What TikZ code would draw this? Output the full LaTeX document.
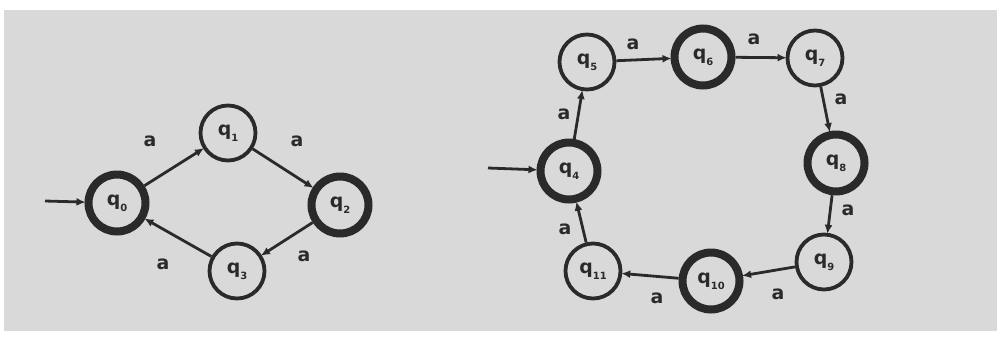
\documentclass[tikz,border=0pt]{standalone}
\usepackage{fontspec}
\setmainfont{DejaVu Sans}
\usetikzlibrary{arrows.meta}
\definecolor{paper}{HTML}{D9D9D9}
\definecolor{ink}{HTML}{2A2A2A}
\newcommand{\st}[1]{\fontsize{19}{20}\selectfont\bfseries q\raisebox{-0.6ex}{\fontsize{10}{11}\selectfont #1}}
\tikzset{
  x=1bp, y=-1bp,
  thinstate/.style={circle, draw=ink, line width=3.8bp, minimum size=55bp, inner sep=0pt, text=ink},
  thickstate/.style={circle, draw=ink, line width=8bp, minimum size=57bp, inner sep=0pt, text=ink},
  edge/.style={draw=ink, line width=2.8bp, -{Latex[length=9bp,width=8bp]}, shorten >=-1bp},
  lab/.style={text=ink, font=\fontsize{19}{20}\selectfont\bfseries, inner sep=0pt}
}
\begin{document}
\begin{tikzpicture}
\useasboundingbox (0,0) rectangle (1000,341);
\fill[white] (0,0) rectangle (1000,341);
\fill[paper] (4,10) rectangle (997,331);
% left automaton
\node[thickstate] (q0) at (117,203) {\st{0}};
\node[thinstate]  (q1) at (228,133) {\st{1}};
\node[thickstate] (q2) at (340,205) {\st{2}};
\node[thinstate]  (q3) at (237,271) {\st{3}};
\coordinate (s0) at (45,201);
\draw[edge] (s0) -- (q0);
\draw[edge] (q0) -- (q1);
\draw[edge] (q1) -- (q2);
\draw[edge] (q2) -- (q3);
\draw[edge] (q3) -- (q0);
\node[lab] (l01) at (150,141) {a};
\node[lab] (l12) at (297,141) {a};
\node[lab] (l23) at (304,256) {a};
\node[lab] (l30) at (163,264) {a};
% right automaton
\node[thickstate] (q4) at (569,171) {\st{4}};
\node[thinstate]  (q5) at (587,62) {\st{5}};
\node[thickstate] (q6) at (703,57) {\st{6}};
\node[thinstate]  (q7) at (815,58) {\st{7}};
\node[thickstate] (q8) at (836,163) {\st{8}};
\node[thinstate]  (q9) at (824,262) {\st{9}};
\node[thickstate] (q10) at (711,281) {\st{10}};
\node[thinstate]  (q11) at (593,271) {\st{11}};
\coordinate (s4) at (488,168);
\draw[edge] (s4) -- (q4);
\draw[edge] (q4) -- (q5);
\draw[edge] (q5) -- (q6);
\draw[edge] (q6) -- (q7);
\draw[edge] (q7) -- (q8);
\draw[edge] (q8) -- (q9);
\draw[edge] (q9) -- (q10);
\draw[edge] (q10) -- (q11);
\draw[edge] (q11) -- (q4);
\node[lab] (l45) at (564,114) {a};
\node[lab] (l56) at (633,44) {a};
\node[lab] (l67) at (754,39) {a};
\node[lab] (l78) at (841,99) {a};
\node[lab] (l89) at (848,210) {a};
\node[lab] (l910) at (778,294) {a};
\node[lab] (l1011) at (657,298) {a};
\node[lab] (l114) at (565,229) {a};
\end{tikzpicture}
\end{document}
